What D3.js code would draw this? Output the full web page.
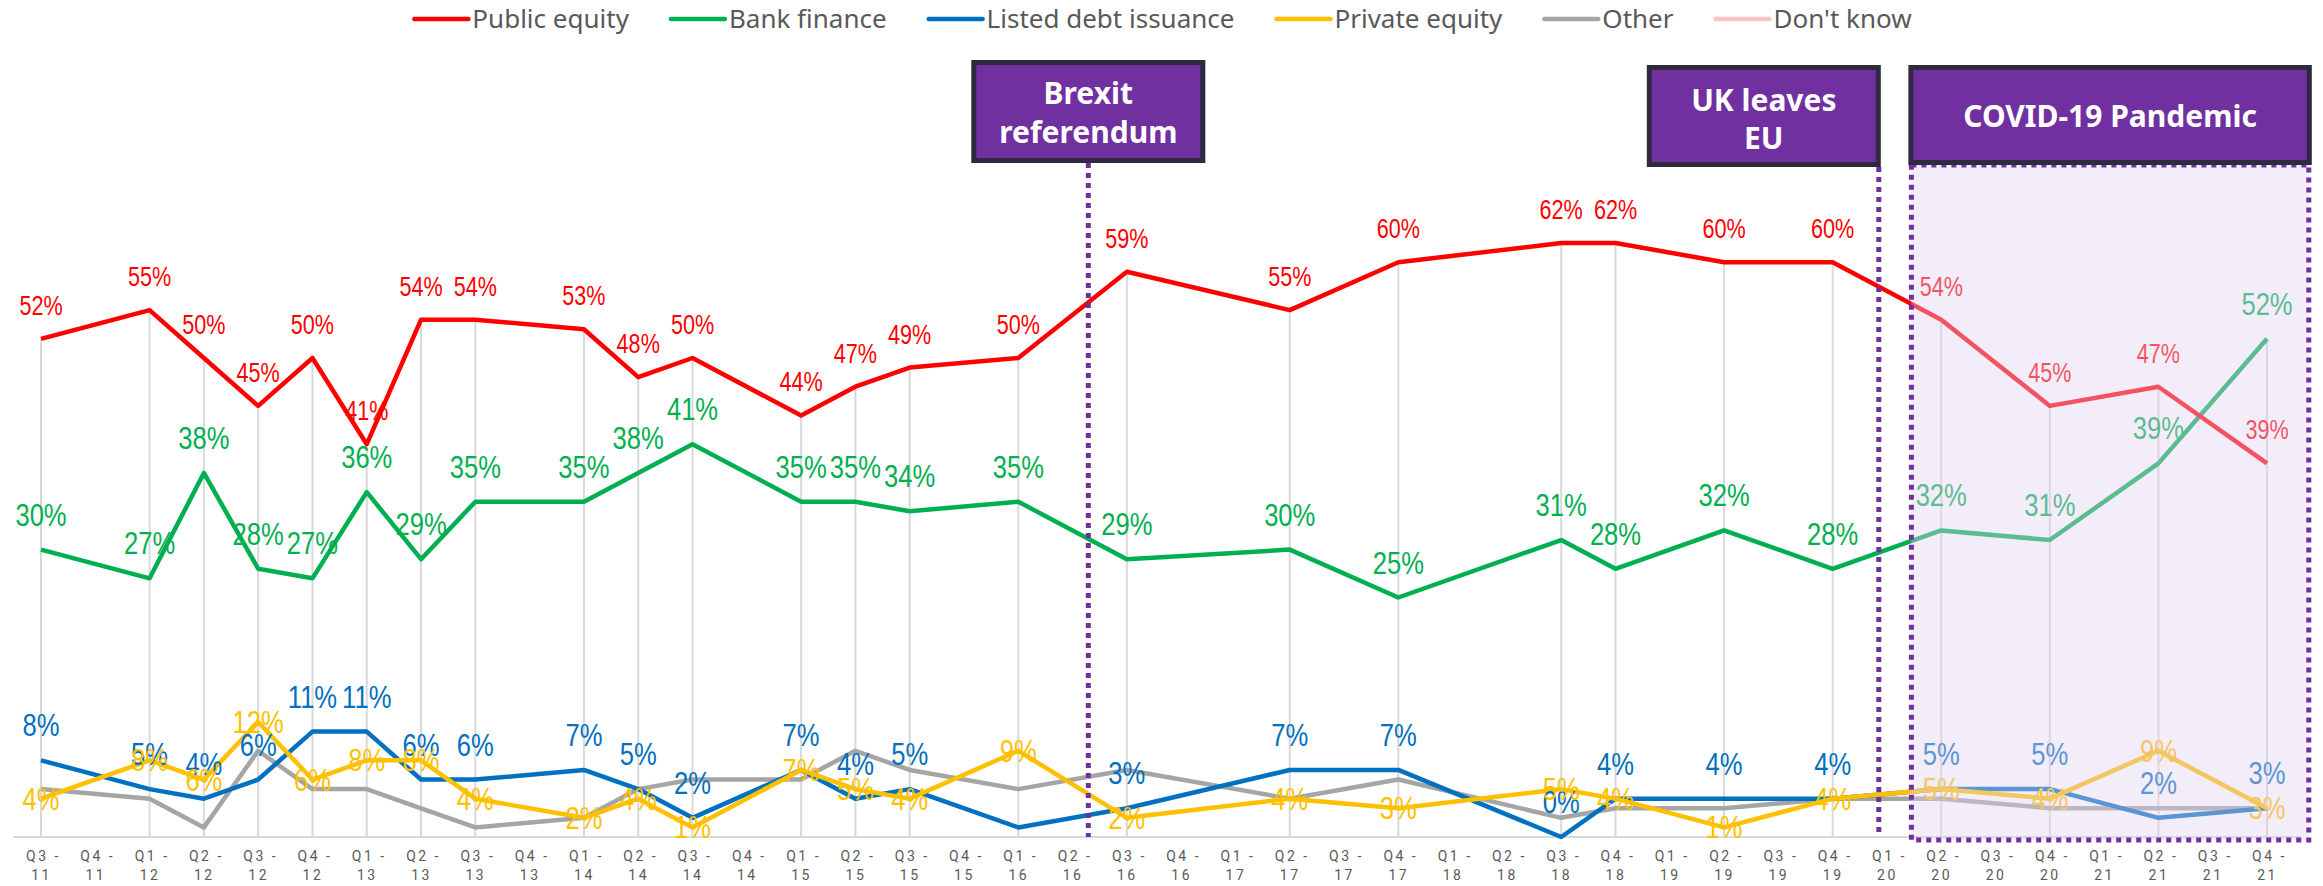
<!DOCTYPE html>
<html>
<head>
<meta charset="utf-8">
<script src="https://cdn.jsdelivr.net/npm/d3@7/dist/d3.min.js"></script>
<style>
  body { margin: 0; background: #fff; }
  svg { display: block; }
</style>
</head>
<body>
<svg id="chart" width="2323" height="886"></svg>
<script>
// every quarter on the axis
const quarters = [
  "Q3-11", "Q4-11",
  "Q1-12", "Q2-12", "Q3-12", "Q4-12",
  "Q1-13", "Q2-13", "Q3-13", "Q4-13",
  "Q1-14", "Q2-14", "Q3-14", "Q4-14",
  "Q1-15", "Q2-15", "Q3-15", "Q4-15",
  "Q1-16", "Q2-16", "Q3-16", "Q4-16",
  "Q1-17", "Q2-17", "Q3-17", "Q4-17",
  "Q1-18", "Q2-18", "Q3-18", "Q4-18",
  "Q1-19", "Q2-19", "Q3-19", "Q4-19",
  "Q1-20", "Q2-20", "Q3-20", "Q4-20",
  "Q1-21", "Q2-21", "Q3-21", "Q4-21"
];

// quarters where the survey was run
const surveyQuarters = [
  "Q3-11", "Q1-12", "Q2-12", "Q3-12", "Q4-12", "Q1-13", "Q2-13", "Q3-13",
  "Q1-14", "Q2-14", "Q3-14", "Q1-15", "Q2-15", "Q3-15", "Q1-16", "Q3-16",
  "Q2-17", "Q4-17", "Q3-18", "Q4-18", "Q2-19", "Q4-19", "Q2-20", "Q4-20",
  "Q2-21", "Q4-21"
];

const publicEquity  = [52, 55, 50, 45, 50, 41, 54, 54, 53, 48, 50, 44, 47, 49, 50, 59, 55, 60, 62, 62, 60, 60, 54, 45, 47, 39];
const bankFinance   = [30, 27, 38, 28, 27, 36, 29, 35, 35, 38, 41, 35, 35, 34, 35, 29, 30, 25, 31, 28, 32, 28, 32, 31, 39, 52];
const listedDebt    = [8, 5, 4, 6, 11, 11, 6, 6, 7, 5, 2, 7, 4, 5, 1, 3, 7, 7, 0, 4, 4, 4, 5, 5, 2, 3];
const privateEquity = [4, 8, 6, 12, 6, 8, 8, 4, 2, 4, 1, 7, 5, 4, 9, 2, 4, 3, 5, 4, 1, 4, 5, 4, 9, 3];
const other         = [5, 4, 1, 9, 5, 5, 3, 1, 2, 5, 6, 6, 9, 7, 5, 7, 4, 6, 2, 3, 3, 4, 4, 3, 3, 3];

const seriesNames  = ["Public equity", "Bank finance", "Listed debt issuance", "Private equity", "Other", "Don't know"];
const seriesColors = ["#ff0000", "#00b050", "#0070c0", "#ffc000", "#a5a5a5", "#ffc4c4"];

const W = 2323, H = 886;
const svg = d3.select('#chart');

const x = d3.scalePoint().domain(quarters).range([41, 2267]);
const y = d3.scaleLinear().domain([0, 80]).range([837, 70.6]);
// position between quarters, in quarter units
const xAt = (q, off) => x(q) + off * x.step();

// series setup (drawing order: other at the bottom, public equity on top)
const series = [
  { name: "Other", values: other, color: seriesColors[4], label: null },
  { name: "Listed debt issuance", values: listedDebt, color: seriesColors[2], label: 'above', size: 32, skip: ["Q1-16"] },
  { name: "Private equity", values: privateEquity, color: seriesColors[3], label: 'center', size: 32 },
  { name: "Bank finance", values: bankFinance, color: seriesColors[1], label: 'above', size: 32 },
  { name: "Public equity", values: publicEquity, color: seriesColors[0], label: 'above', size: 27 }
];

// axis line
svg.append('line')
  .attr('x1', 13).attr('x2', 2300)
  .attr('y1', y(0)).attr('y2', y(0))
  .attr('stroke', '#d9d9d9').attr('stroke-width', 2);

// drop lines from axis up to the highest point
const g = svg.append('g');
surveyQuarters.forEach((q, i) => {
  const top = d3.max(series, s => s.values[i]);
  g.append('line')
    .attr('x1', x(q)).attr('x2', x(q))
    .attr('y1', y(0)).attr('y2', y(top))
    .attr('stroke', '#d9d9d9').attr('stroke-width', 2);
});

// x axis labels
const axis = svg.append('g')
  .attr('transform', `translate(0,${y(0)})`)
  .call(d3.axisBottom(x).tickSize(0).tickPadding(0));
axis.select('.domain').remove();
axis.selectAll('.tick text').remove();
axis.selectAll('.tick').each(function (q) {
  const parts = q.split('-');
  const t = d3.select(this).append('text')
    .attr('fill', '#595959')
    .attr('font-family', 'Roboto, "Noto Sans", sans-serif')
    .attr('font-size', 14)
    .attr('letter-spacing', 2.5)
    .attr('text-anchor', 'middle');
  t.append('tspan').attr('x', 2).attr('y', 24).text(parts[0] + ' -');
  t.append('tspan').attr('x', 0).attr('y', 43).text(parts[1]);
});

// lines
const line = d3.line()
  .x((d, i) => x(surveyQuarters[i]))
  .y(d => y(d));

series.forEach(s => {
  svg.append('path')
    .datum(s.values)
    .attr('fill', 'none')
    .attr('stroke', s.color)
    .attr('stroke-width', 4.5)
    .attr('stroke-linejoin', 'round')
    .attr('d', line);
});

// data labels
series.forEach(s => {
  if (!s.label) return;
  const lg = svg.append('g');
  s.values.forEach((v, i) => {
    const q = surveyQuarters[i];
    if (s.skip && s.skip.includes(q)) return;
    const py = s.label === 'above' ? y(v) - 24 : y(v) + 11;
    lg.append('g')
      .attr('transform', `translate(${x(q)},${py})`)
      .append('text')
      .attr('transform', 'scale(0.8,1)')
      .attr('text-anchor', 'middle')
      .attr('font-family', '"Liberation Sans", Arial, sans-serif')
      .attr('font-size', s.size)
      .attr('fill', s.color)
      .text(v + '%');
  });
});

// event markers
const purple = '#7030a0';
const boxStroke = '#2f2940';
const brexitX = xAt("Q2-16", 0.29);
const leaveX = xAt("Q4-19", 0.85);
const covidL = xAt("Q1-20", 0.45);
const covidR = xAt("Q4-21", 0.77);

function eventBox(x0, y0, w, h, lines, baselines) {
  svg.append('rect')
    .attr('x', x0 + 2.5).attr('y', y0 + 2.5)
    .attr('width', w - 5).attr('height', h - 5)
    .attr('fill', purple)
    .attr('stroke', boxStroke).attr('stroke-width', 5);
  lines.forEach((t, i) => {
    svg.append('text')
      .attr('x', x0 + w / 2).attr('y', baselines[i])
      .attr('text-anchor', 'middle')
      .attr('font-family', '"Noto Sans", "Open Sans", sans-serif')
      .attr('font-weight', 'bold')
      .attr('font-size', 30)
      .attr('fill', '#fff')
      .text(t);
  });
}

// dotted verticals
[[brexitX, 163], [leaveX, 167]].forEach(([lx, top]) => {
  svg.append('line')
    .attr('x1', lx).attr('x2', lx)
    .attr('y1', top).attr('y2', y(0))
    .attr('stroke', purple).attr('stroke-width', 5)
    .attr('stroke-dasharray', '5,5');
});

// covid shaded period
svg.append('rect')
  .attr('x', covidL).attr('y', 165)
  .attr('width', covidR - covidL).attr('height', 840 - 165)
  .attr('fill', 'rgb(225,207,240)').attr('fill-opacity', 0.4)
  .attr('stroke', purple).attr('stroke-width', 5)
  .attr('stroke-dasharray', '5,5');

eventBox(brexitX - 117, 60, 234, 103, ["Brexit", "referendum"], [104, 143]);
eventBox(leaveX - 232, 65, 234, 102, ["UK leaves", "EU"], [111, 149]);
eventBox(covidL - 3, 65, covidR - covidL + 6, 100, ["COVID-19 Pandemic"], [127]);

// legend
const legend = svg.append('g');
let lx = 0;
seriesNames.forEach((name, i) => {
  const item = legend.append('g').attr('transform', `translate(${lx},0)`);
  item.append('line')
    .attr('x1', 0).attr('x2', 54)
    .attr('y1', 19).attr('y2', 19)
    .attr('stroke', seriesColors[i]).attr('stroke-width', 4.5)
    .attr('stroke-linecap', 'round');
  const t = item.append('text')
    .attr('x', 58).attr('y', 28)
    .attr('font-family', '"Noto Sans", "Open Sans", sans-serif')
    .attr('font-size', 26)
    .attr('fill', '#595959')
    .text(name);
  lx += 58 + t.node().getComputedTextLength() + 42;
});
const legendW = lx - 42;
legend.attr('transform', `translate(${1163 - legendW / 2},0)`);
</script>
</body>
</html>
